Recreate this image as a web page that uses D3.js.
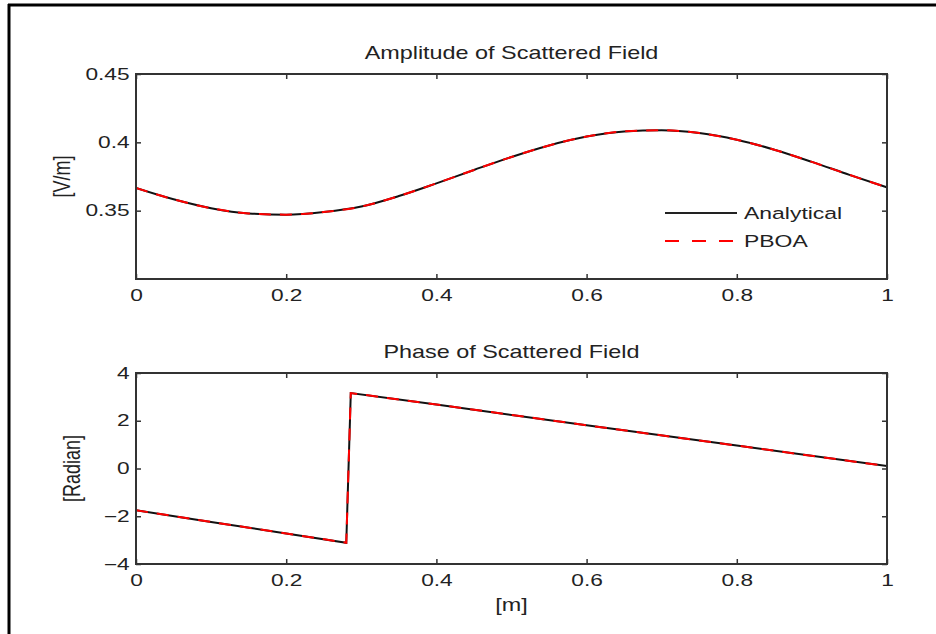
<!DOCTYPE html>
<html>
<head>
<meta charset="utf-8">
<script src="https://cdn.jsdelivr.net/npm/d3@7"></script>
<style>
  body { margin: 0; background: #fff; }
  text { font-family: "Liberation Sans", Arial, sans-serif; fill: #222; }
</style>
</head>
<body>
<svg id="chart"></svg>
<script>
// amplitude of scattered field, [V/m] vs [m]
const ampX = [0, 0.05, 0.1, 0.15, 0.2, 0.25, 0.3, 0.35, 0.4, 0.45, 0.5,
              0.55, 0.6, 0.65, 0.7, 0.75, 0.8, 0.85, 0.9, 0.95, 1];
const ampAnalytical = [0.3666, 0.3583, 0.3518, 0.3480, 0.3471, 0.3490, 0.3530, 0.3607, 0.3700, 0.3798, 0.3893,
                       0.3977, 0.4042, 0.4080, 0.4089, 0.4068, 0.4019, 0.3946, 0.3857, 0.3762, 0.3670];
const ampPBOA = [0.3666, 0.3583, 0.3518, 0.3480, 0.3471, 0.3490, 0.3530, 0.3607, 0.3700, 0.3798, 0.3893,
                 0.3977, 0.4042, 0.4080, 0.4089, 0.4068, 0.4019, 0.3946, 0.3857, 0.3762, 0.3670];

// phase of scattered field, [Radian] vs [m]
const phaseX = [0, 0.1, 0.2, 0.28, 0.286, 0.4, 0.6, 0.8, 1];
const phaseAnalytical = [-1.75, -2.24, -2.72, -3.11, 3.16, 2.68, 1.81, 0.96, 0.10];
const phasePBOA = [-1.75, -2.24, -2.72, -3.11, 3.16, 2.68, 1.81, 0.96, 0.10];

const xTicks = [0, 0.2, 0.4, 0.6, 0.8, 1];
const ampTicks = [0.35, 0.4, 0.45];
const phaseTicks = [-4, -2, 0, 2, 4];
const legendNames = ["Analytical", "PBOA"];

var width = 936, height = 634;
var left = 136, right = 887;
var tickStretch = 1.42, labelStretch = 1.3; // the reference text is wide, like a horizontally stretched image

var svg = d3.select('#chart')
  .attr('width', width)
  .attr('height', height);

// outer frame (only left + top edges visible)
svg.append('line').attr('x1', 9).attr('x2', 9).attr('y1', 4).attr('y2', height)
  .attr('stroke', '#000').attr('stroke-width', 3);
svg.append('line').attr('x1', 8).attr('x2', width).attr('y1', 5).attr('y2', 5)
  .attr('stroke', '#000').attr('stroke-width', 3);

var x = d3.scaleLinear().domain([0, 1]).range([left, right]);

// text placed at (px,py), stretched horizontally
function wideText(px, py, str, size, stretch, anchor, rot) {
  return svg.append('text')
    .attr('transform', 'translate(' + px + ',' + py + ') scale(' + stretch + ',1)' + (rot ? ' rotate(' + rot + ')' : ''))
    .attr('text-anchor', anchor || 'middle')
    .style('font-size', size + 'px')
    .text(str);
}

function panel(top, bottom, yDomain, yTicks, yFmt, title, ylabel, ylabelX, series, curve, id) {
  var y = d3.scaleLinear().domain(yDomain).range([bottom, top]);

  svg.append('clipPath').attr('id', id)
    .append('rect').attr('x', left).attr('y', top - 2)
    .attr('width', right - left).attr('height', bottom - top + 4);

  // lines
  var line = d3.line().x(d => x(d[0])).y(d => y(d[1])).curve(curve);
  series.forEach(s => {
    svg.append('path')
      .datum(s.xs.map((v, i) => [v, s.ys[i]]))
      .attr('clip-path', 'url(#' + id + ')')
      .attr('d', line)
      .attr('fill', 'none')
      .attr('stroke', s.color)
      .attr('stroke-width', 2)
      .attr('stroke-dasharray', s.dash);
  });

  // axes, inward ticks on all four sides
  var gb = svg.append('g').attr('transform', 'translate(0,' + bottom + ')')
    .call(d3.axisBottom(x).tickValues(xTicks).tickSize(-5).tickPadding(11).tickFormat(d3.format('~g')));
  var gt = svg.append('g').attr('transform', 'translate(0,' + top + ')')
    .call(d3.axisTop(x).tickValues(xTicks).tickSize(-5).tickFormat(''));
  var gl = svg.append('g').attr('transform', 'translate(' + left + ',0)')
    .call(d3.axisLeft(y).tickValues(yTicks).tickSize(-5).tickPadding(4.5).tickFormat(yFmt));
  var gr = svg.append('g').attr('transform', 'translate(' + right + ',0)')
    .call(d3.axisRight(y).tickValues(yTicks).tickSize(-5).tickFormat(''));
  [gb, gt, gl, gr].forEach(g => {
    g.select('.domain').remove();
    g.selectAll('line').attr('stroke', '#333').attr('stroke-width', 1.5);
    g.selectAll('text').style('font-size', '16px')
      .style('font-family', '"Liberation Sans", Arial, sans-serif').attr('fill', '#222')
      .attr('transform', 'scale(' + tickStretch + ',1)');
  });

  svg.append('rect')
    .attr('x', left).attr('y', top)
    .attr('width', right - left).attr('height', bottom - top)
    .attr('fill', 'none').attr('stroke', '#333').attr('stroke-width', 2);

  wideText((left + right) / 2, top - 15, title, 18, labelStretch);
  wideText(ylabelX, (top + bottom) / 2, ylabel, 18, labelStretch, 'middle', -90);

  return y;
}

panel(74, 279, [0.3, 0.45], ampTicks, d3.format('~g'),
  'Amplitude of Scattered Field', '[V/m]', 70,
  [{ xs: ampX, ys: ampAnalytical, color: '#111', dash: null },
   { xs: ampX, ys: ampPBOA, color: '#ff0000', dash: '12,9' }], d3.curveMonotoneX, 'clipA');

panel(373, 564, [-4, 4], phaseTicks, d => d3.format('d')(d).replace('-', '\u2212'),
  'Phase of Scattered Field', '[Radian]', 80,
  [{ xs: phaseX, ys: phaseAnalytical, color: '#111', dash: null },
   { xs: phaseX, ys: phasePBOA, color: '#ff0000', dash: '12,9' }], d3.curveLinear, 'clipP');

// x label
wideText((left + right) / 2, 611, '[m]', 18, labelStretch);

// legend
var legendX = 665, legendY = 213;
legendNames.forEach((name, i) => {
  svg.append('line')
    .attr('x1', legendX).attr('x2', legendX + 72)
    .attr('y1', legendY + i * 28).attr('y2', legendY + i * 28)
    .attr('stroke', i === 0 ? '#222' : '#ff0000')
    .attr('stroke-width', 2)
    .attr('stroke-dasharray', i === 0 ? null : '14,13');
  wideText(legendX + 79, legendY + i * 28 + 6, name, 17, 1.35, 'start');
});
</script>
</body>
</html>
